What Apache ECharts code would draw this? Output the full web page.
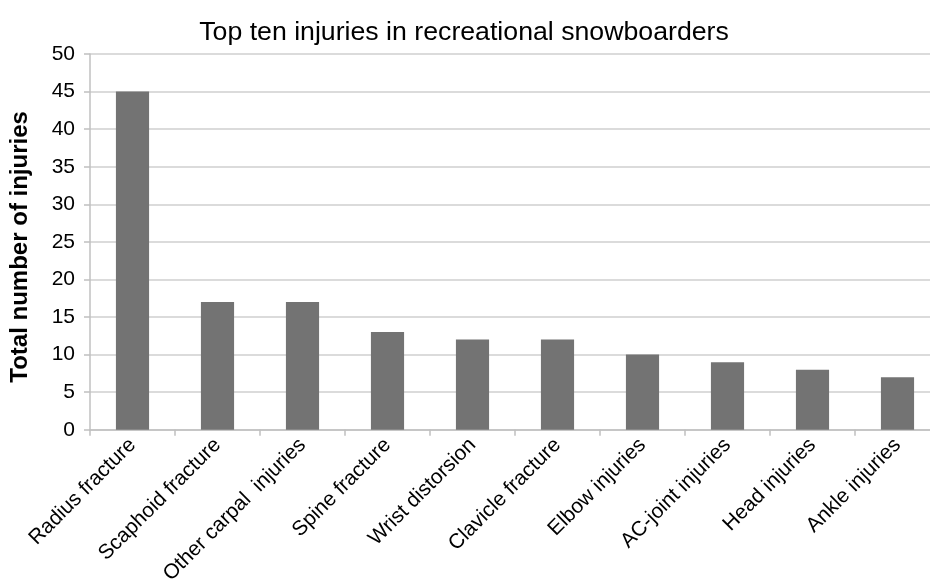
<!DOCTYPE html>
<html><head><meta charset="utf-8">
<script src="https://cdn.jsdelivr.net/npm/echarts@6/dist/echarts.min.js"></script>
<style>html,body{margin:0;padding:0;background:#fff;overflow:hidden}#c{width:941px;height:587px}</style>
</head><body><div id="c"></div>
<script>
const categories = ["Radius fracture","Scaphoid fracture","Other carpal  injuries","Spine fracture","Wrist distorsion","Clavicle fracture","Elbow injuries","AC-joint injuries","Head injuries","Ankle injuries"];
const values = [45,17,17,13,12,12,10,9,8,7];
const yTicks = {min:0,max:50,interval:5};
const chart = echarts.init(document.getElementById('c'));
chart.setOption({
  animation:false,
  title:{text:'Top ten injuries in recreational snowboarders',left:459,top:14,textAlign:'center',
    textStyle:{fontFamily:'Liberation Sans, Arial',fontSize:26.7,fontWeight:'normal',color:'#000'}},
  grid:{left:89,right:1,top:54,height:376,containLabel:false},
  xAxis:{type:'category',data:categories,
    axisLine:{lineStyle:{color:'#c0c0c0',width:1.5}},
    axisTick:{show:true,alignWithLabel:false,length:6,lineStyle:{color:'#c0c0c0',width:1.5}},
    axisLabel:{rotate:45,interval:0,margin:12,fontFamily:'Liberation Sans, Arial',fontSize:20.8,color:'#000'}},
  yAxis:{type:'value',min:yTicks.min,max:yTicks.max,interval:yTicks.interval,
    name:'Total number of injuries',nameLocation:'middle',nameGap:58,nameRotate:90,
    nameTextStyle:{fontFamily:'Liberation Sans, Arial',fontSize:24,fontWeight:'bold',color:'#000',padding:[0,10,0,0]},
    axisLine:{show:true,lineStyle:{color:'#c0c0c0',width:1.5}},
    axisTick:{show:true,length:6,lineStyle:{color:'#c0c0c0',width:1.5}},
    splitLine:{lineStyle:{color:'#cfcfcf',width:1.5}},
    axisLabel:{margin:15,fontFamily:'Liberation Sans, Arial',fontSize:21,color:'#000'}},
  series:[{type:'bar',data:values,barWidth:'39%',itemStyle:{color:'#737373'}}]
});
</script></body></html>
